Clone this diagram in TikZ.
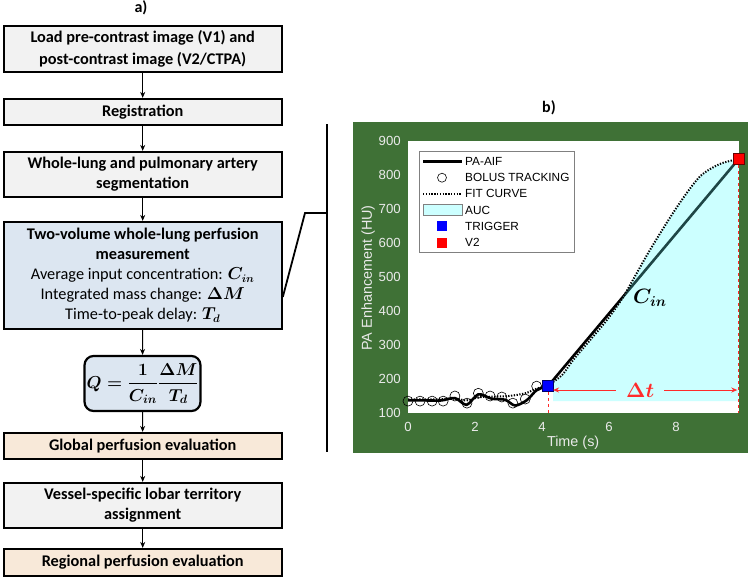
\documentclass[tikz,border=0pt]{standalone}
\usepackage{fontspec}
\setmainfont{Carlito}
\newfontfamily\arialf{Liberation Sans}
\usepackage{amsmath,bm}
\usetikzlibrary{arrows.meta,calc}
\definecolor{grayfill}{HTML}{F2F2F2}
\definecolor{bluefill}{HTML}{DCE6F1}
\definecolor{beigefill}{HTML}{F8E9D9}
\definecolor{chartgreen}{HTML}{3F7136}
\definecolor{auccyan}{HTML}{CCFFFF}
\definecolor{tickgray}{HTML}{EAEAEA}
\definecolor{dtred}{HTML}{FF2A2A}
\definecolor{darkteal}{HTML}{1E4646}
\begin{document}
\begin{tikzpicture}[x=1pt,y=-1pt,
  box/.style={draw=black, line width=2.2pt, minimum width=278pt, inner sep=2pt, align=center,
    font=\fontsize{16.3}{20}\selectfont\bfseries},
  arr/.style={-{Stealth[length=6pt,width=5pt]}, line width=1.1pt},
  bracket/.style={line width=1.8pt},
  tick/.style={text=tickgray, font=\arialf\fontsize{13.2}{15}\selectfont, inner sep=0pt},
  legtext/.style={font=\arialf\fontsize{11.8}{13}\selectfont, anchor=west, inner sep=0pt},
  panel/.style={font=\fontsize{16}{18}\selectfont\bfseries, inner sep=0pt},
  fitline/.style={line width=2pt, dash pattern=on 1.3pt off 1.5pt}
]
\useasboundingbox (0,0) rectangle (750,579);

% ---------- flowchart ----------
\node[panel] (la) at (141,8) {a)};
\node[box, fill=grayfill, minimum height=46pt, font=\fontsize{16.3}{21.5}\selectfont\bfseries] (b1) at (142.7,49)
  {Load pre-contrast image (V1) and\\post-contrast image (V2/CTPA)};
\node[box, fill=grayfill, minimum height=26pt] (b2) at (142.7,112) {Registration};
\node[box, fill=grayfill, minimum height=45pt] (b3) at (142.7,174.5)
  {Whole-lung and pulmonary artery\\segmentation};
\node[box, fill=bluefill, minimum height=107pt] (b4) at (142.7,275.5)
  {Two-volume whole-lung perfusion\\measurement\\
   \mdseries Average input concentration: $\bm{C_{in}}$\\
   \mdseries Integrated mass change: $\bm{\Delta M}$\\
   \mdseries Time-to-peak delay: $\bm{T_d}$};
\node[box, fill=bluefill, minimum width=111pt, minimum height=55pt, rounded corners=9pt,
  font=\fontsize{18}{20}\selectfont\boldmath] (q) at (142.5,383.5)
  {$\displaystyle \bm{Q}\bm{=}\frac{\mathbf{1}}{\bm{C_{in}}}\frac{\bm{\Delta M}}{\bm{T_d}}$};
\node[box, fill=beigefill, minimum height=26pt] (b5) at (142.7,446) {Global perfusion evaluation};
\node[box, fill=grayfill, minimum height=45pt] (b6) at (142.7,505.5)
  {Vessel-specific lobar territory\\assignment};
\node[box, fill=beigefill, minimum height=27pt] (b7) at (142.7,562.5) {Regional perfusion evaluation};

\draw[arr] (b1) -- (b2);
\draw[arr] (b2) -- (b3);
\draw[arr] (b3) -- (b4);
\draw[arr] (b4) -- (q);
\draw[arr] (q) -- (b5);
\draw[arr] (b5) -- (b6);
\draw[arr] (b6) -- (b7);

% bracket
\coordinate (bt) at (327,124);
\coordinate (bb) at (327,452);
\coordinate (bj) at (327,213);
\coordinate (bk) at (305,213);
\draw[bracket] (bt) -- (bb);
\draw[bracket, line join=miter] ([yshift=-21.5pt]b4.east) -- (bk) -- (bj);

% ---------- chart ----------
\node[panel] (lb) at (549,108) {b)};
\fill[chartgreen] (353,122) rectangle (748,453);
\fill[white] (408,141) rectangle (739,413);

\begin{scope}[shift={(408pt,-447pt)}, x=33.5pt, y=0.34pt]
  % PA-AIF solid
  \draw[line width=2.6pt, line join=round] plot[smooth, tension=0.5] coordinates
    {(0,137) (0.5,137) (1.0,137) (1.4,144) (1.75,124) (2.1,155) (2.5,142) (2.9,139) (3.2,122) (3.55,138) (3.85,168) (4.18,179)}
    -- (9.87,847);
  % AUC fill
  \def\aucpath{(4.33,135) -- plot[smooth, tension=0.5] coordinates
    {(4.33,192) (4.6,212) (4.93,256) (5.5,322) (5.94,374) (6.42,441) (7.22,579) (8.03,706) (8.7,794) (9.3,832) (9.87,847)}
    -- (9.87,135) -- cycle}
  \fill[auccyan] \aucpath;
  \begin{scope}
    \clip \aucpath;
    \draw[darkteal, line width=2.6pt] (4.18,179) -- (9.87,847);
  \end{scope}
  % fit curve dotted
  \draw[fitline] plot[smooth, tension=0.5] coordinates
    {(0,140) (0.7,140) (1.4,142) (1.75,137) (2.1,146) (2.5,148) (3.0,150) (3.5,158) (3.85,172) (4.18,182)
     (4.6,212) (4.93,256) (5.5,322) (5.94,374) (6.42,441) (7.22,579) (8.03,706) (8.7,794) (9.3,832) (9.87,847)};
  % bolus tracking circles
  \foreach \t/\v in {0/135,0.36/135,0.72/135,1.05/135,1.4/150,1.76/129,2.1/158,2.45/150,2.8/147,3.13/129,3.5/141,3.84/179}
    \draw[line width=0.6pt] (\t,\v) circle[radius=5pt];
  % dashed red verticals
  \draw[dtred, dashed, line width=0.9pt] (4.18,179) -- (4.18,100);
  \draw[dtred, dashed, line width=0.9pt] (9.87,847) -- (9.87,100);
  % trigger and V2
  \node[fill=blue, draw=blue!40!black, line width=0.4pt, minimum size=11pt, inner sep=0pt] (trig) at (4.18,179) {};
  \node[fill=red, draw=red!40!black, line width=0.4pt, minimum size=11pt, inner sep=0pt] (v2) at (9.87,847) {};
  % delta t
  \node[text=dtred, font=\fontsize{20}{22}\selectfont\boldmath, inner xsep=10pt, inner ysep=2pt] (dt) at (6.93,167.6) {$\Delta t$};
  \coordinate (dtl) at (4.33,167.6);
  \coordinate (dtr) at (9.83,167.6);
  \draw[dtred, line width=1pt, -{Stealth[length=6pt,width=5pt]}] (dt) -- (dtl);
  \draw[dtred, line width=1pt, -{Stealth[length=6pt,width=5pt]}] (dt) -- (dtr);
  % C_in
  \node[font=\fontsize{20}{22}\selectfont\boldmath] (cin) at (7.22,438) {$C_{in}$};
  % ticks
  \foreach \v in {100,200,...,900}
    \node[tick, anchor=east] (yt\v) at (-0.21,\v) {\v};
  \foreach \t in {0,2,4,6,8}
    \node[tick] (xt\t) at (\t,58.8) {\t};
  \node[tick, font=\arialf\fontsize{14.4}{16}\selectfont] (xl) at (4.93,11.8) {Time (s)};
  \node[tick, font=\arialf\fontsize{14.4}{16}\selectfont, rotate=90] (yl) at (-1.19,497) {PA Enhancement (HU)};
\end{scope}

% legend
\draw[gray, line width=0.8pt, fill=white] (419,151) rectangle (574,252);
\coordinate (l1a) at (423,161.7); \coordinate (l1b) at (462,161.7);
\draw[line width=2.6pt] (l1a) -- (l1b);
\draw[line width=0.6pt] (442,177.7) circle[radius=4.5pt];
\coordinate (l3a) at (423,193.7); \coordinate (l3b) at (462,193.7);
\draw[fitline] (l3a) -- (l3b);
\draw[gray, line width=0.6pt, fill=auccyan] (423,204.3) rectangle (462,215.7);
\node[fill=blue, minimum size=10pt, inner sep=0pt] (lg5) at (442,226) {};
\node[fill=red, minimum size=10pt, inner sep=0pt] (lg6) at (442,242.7) {};
\node[legtext] (t1) at (465,161.7) {PA-AIF};
\node[legtext] (t2) at (465,177.7) {BOLUS TRACKING};
\node[legtext] (t3) at (465,193.7) {FIT CURVE};
\node[legtext] (t4) at (465,210) {AUC};
\node[legtext] (t5) at (465,226) {TRIGGER};
\node[legtext] (t6) at (465,242.7) {V2};
\end{tikzpicture}
\end{document}
